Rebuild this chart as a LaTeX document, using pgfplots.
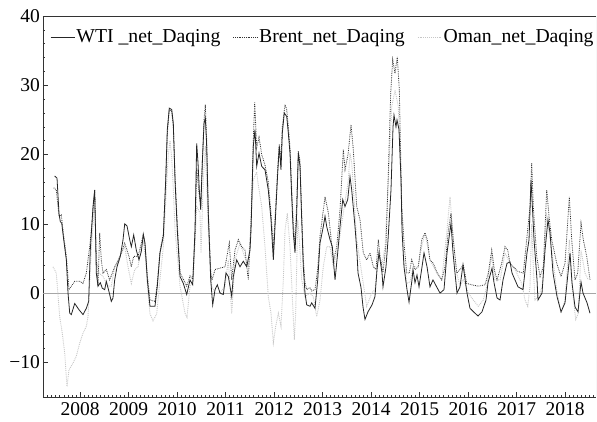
\documentclass[border=0pt]{standalone}
\usepackage{fontspec}
\setmainfont{Liberation Serif}
\usepackage{pgfplots}
\pgfplotsset{compat=1.18}
\usepackage{pgfplotstable}

\pgfplotstableread{
x y
2007.478 16.9
2007.526 16.6
2007.567 11.5
2007.594 10.3
2007.623 10.1
2007.664 7.7
2007.718 4.8
2007.753 0
2007.788 -2.9
2007.821 -3.1
2007.891 -1.5
2007.979 -2.4
2008.062 -3.1
2008.130 -2.2
2008.179 -1.2
2008.212 6.2
2008.268 12.5
2008.303 14.9
2008.336 2.9
2008.371 1.0
2008.419 1.5
2008.460 0.7
2008.509 0.5
2008.542 1.7
2008.598 0.2
2008.645 -1.2
2008.680 -0.7
2008.715 1.9
2008.763 3.8
2008.831 5.3
2008.887 7.7
2008.922 10.0
2008.969 9.7
2009.025 7.7
2009.058 6.7
2009.107 8.4
2009.161 6.2
2009.216 4.8
2009.264 6.0
2009.305 8.5
2009.340 7.2
2009.388 1.9
2009.443 -1.9
2009.546 -1.9
2009.594 1.0
2009.649 5.8
2009.718 8.2
2009.767 16.3
2009.800 23.6
2009.841 26.7
2009.891 26.5
2009.924 24.5
2009.959 16.3
2010.006 9.1
2010.062 2.4
2010.130 1.4
2010.200 -0.2
2010.268 1.9
2010.324 1.2
2010.371 9.1
2010.406 21.6
2010.433 18.8
2010.460 14.9
2010.489 12.0
2010.522 18.8
2010.557 24.5
2010.584 25.3
2010.612 21.2
2010.645 11.5
2010.695 1.9
2010.736 -1.7
2010.784 0.5
2010.831 1.2
2010.887 0
2010.955 -0.2
2011.010 2.9
2011.058 2.4
2011.128 -0.5
2011.161 2.4
2011.231 4.8
2011.299 3.8
2011.367 4.6
2011.437 3.8
2011.505 6.2
2011.526 9.1
2011.573 21.2
2011.608 23.6
2011.643 18.3
2011.691 20.2
2011.746 18.3
2011.814 17.8
2011.882 14.9
2011.938 10.6
2011.986 4.8
2012.035 11.6
2012.076 17.3
2012.109 21.2
2012.144 17.8
2012.171 23.1
2012.212 26.0
2012.262 25.5
2012.295 23.1
2012.330 20.2
2012.365 13.9
2012.398 8.7
2012.433 5.8
2012.468 11.6
2012.501 20.2
2012.536 18.3
2012.571 10.6
2012.604 3.8
2012.639 0
2012.674 -1.7
2012.742 -1.9
2012.777 -1.4
2012.845 -2.2
2012.901 1.9
2012.948 7.2
2013.016 9.6
2013.052 11.1
2013.087 9.6
2013.155 7.7
2013.202 6.7
2013.258 1.9
2013.313 5.8
2013.361 9.6
2013.417 13.5
2013.464 12.5
2013.520 13.5
2013.567 16.8
2013.602 14.9
2013.670 9.6
2013.711 5.8
2013.732 2.9
2013.794 0.8
2013.835 -2.0
2013.876 -3.8
2013.938 -2.7
2014.021 -1.7
2014.082 -0.5
2014.124 3.4
2014.165 5.8
2014.227 2.9
2014.247 0.9
2014.309 3.8
2014.351 7.7
2014.412 14.9
2014.454 24.0
2014.474 25.7
2014.515 24.0
2014.536 25.0
2014.577 23.6
2014.619 16.3
2014.639 9.1
2014.680 3.8
2014.742 0.5
2014.784 -1.3
2014.845 1.9
2014.866 3.4
2014.907 1.5
2014.948 2.6
2014.990 0.9
2015.052 3.8
2015.093 5.8
2015.155 3.8
2015.216 0.9
2015.278 1.9
2015.361 0.8
2015.423 0
2015.505 0.5
2015.567 5.8
2015.649 10.1
2015.691 5.8
2015.773 0
2015.835 0.9
2015.897 4.1
2015.979 0
2016.041 -2.2
2016.144 -2.9
2016.206 -3.3
2016.289 -2.7
2016.371 -1.0
2016.412 1.5
2016.495 3.6
2016.536 1.5
2016.598 -0.7
2016.660 -1.0
2016.722 1.9
2016.804 4.3
2016.866 4.5
2016.907 2.9
2016.969 1.9
2017.031 0.9
2017.134 0.5
2017.216 5.8
2017.258 7.7
2017.299 16.3
2017.320 13.5
2017.361 7.7
2017.423 1.9
2017.443 -1.0
2017.526 0
2017.588 6.2
2017.649 10.6
2017.691 8.7
2017.753 2.9
2017.835 -0.5
2017.918 -2.7
2018.000 -1.4
2018.062 2.9
2018.103 5.8
2018.144 1.5
2018.206 -2.0
2018.268 -2.7
2018.330 1.6
2018.371 0
2018.454 -1.4
2018.515 -2.9
}\wti

\pgfplotstableread{
x y
2007.458 15.2
2007.511 14.9
2007.567 11.1
2007.614 11.3
2007.664 8.2
2007.718 5.3
2007.773 0.5
2007.821 1.0
2007.891 1.7
2007.994 1.7
2008.062 1.4
2008.130 2.9
2008.200 6.7
2008.254 10.6
2008.303 14.9
2008.336 4.8
2008.371 1.0
2008.406 8.7
2008.439 4.8
2008.474 2.9
2008.542 3.4
2008.612 1.9
2008.666 2.9
2008.715 3.8
2008.763 4.3
2008.852 5.8
2008.922 7.2
2009.010 5.3
2009.058 3.8
2009.107 5.3
2009.196 5.3
2009.264 7.2
2009.305 8.5
2009.340 7.0
2009.388 2.5
2009.443 -1.0
2009.546 -1.2
2009.594 1.5
2009.649 6.0
2009.718 8.5
2009.767 16.0
2009.800 23.0
2009.841 26.5
2009.891 26.2
2009.924 24.0
2009.959 17.0
2010.006 10.0
2010.062 3.0
2010.130 2.0
2010.200 1.0
2010.268 2.5
2010.324 2.0
2010.371 8.0
2010.406 18.0
2010.433 16.0
2010.460 14.0
2010.489 13.0
2010.522 19.0
2010.557 25.0
2010.584 27.2
2010.612 22.0
2010.645 12.0
2010.695 3.0
2010.722 1.9
2010.784 3.4
2010.887 3.6
2010.990 3.8
2011.078 7.2
2011.128 1.9
2011.196 6.2
2011.264 7.7
2011.334 6.7
2011.402 6.2
2011.470 1.9
2011.526 10.0
2011.573 22.0
2011.602 27.6
2011.643 21.0
2011.691 22.5
2011.746 20.0
2011.814 18.5
2011.882 16.0
2011.938 11.5
2011.986 6.5
2012.035 12.5
2012.076 18.0
2012.109 21.5
2012.144 19.0
2012.171 24.0
2012.227 27.2
2012.262 26.5
2012.295 24.0
2012.330 21.0
2012.365 15.0
2012.398 10.0
2012.433 7.0
2012.468 13.0
2012.501 20.5
2012.536 19.0
2012.571 11.5
2012.604 5.0
2012.639 1.5
2012.674 0.5
2012.742 0.8
2012.777 0.3
2012.845 0.5
2012.901 3.5
2012.948 8.2
2013.052 13.9
2013.120 11.6
2013.175 8.0
2013.223 4.5
2013.293 6.7
2013.361 12.0
2013.429 20.7
2013.464 17.8
2013.526 20.0
2013.588 24.3
2013.635 20.7
2013.705 12.5
2013.773 10.6
2013.841 5.8
2013.911 4.8
2013.979 5.8
2014.047 3.8
2014.103 3.4
2014.151 7.7
2014.186 5.3
2014.247 3.0
2014.309 7.0
2014.357 17.3
2014.406 28.9
2014.447 33.7
2014.495 31.7
2014.542 34.1
2014.584 29.3
2014.633 12.5
2014.687 6.7
2014.736 2.9
2014.790 2.9
2014.839 4.8
2014.907 3.4
2014.975 3.8
2015.045 7.7
2015.113 8.7
2015.161 7.7
2015.216 4.8
2015.285 4.3
2015.367 2.9
2015.458 1.9
2015.526 3.8
2015.594 9.0
2015.649 11.5
2015.697 7.7
2015.767 2.9
2015.835 3.4
2015.903 4.1
2015.973 1.4
2016.076 1.2
2016.212 1.0
2016.351 1.2
2016.419 2.9
2016.489 6.2
2016.542 3.4
2016.598 1.9
2016.695 4.3
2016.763 6.7
2016.819 6.2
2016.866 4.3
2016.934 3.8
2017.037 3.1
2017.140 2.9
2017.210 7.7
2017.278 12.5
2017.313 18.8
2017.346 12.5
2017.416 5.3
2017.485 2.4
2017.553 3.8
2017.623 14.9
2017.670 11.1
2017.726 7.7
2017.829 4.3
2017.918 2.4
2018.000 4.3
2018.089 13.9
2018.138 7.7
2018.206 1.9
2018.262 2.9
2018.330 10.1
2018.377 7.7
2018.447 5.3
2018.515 1.9
}\brent

\pgfplotstableread{
x y
2007.443 3.8
2007.511 2.9
2007.581 -3.4
2007.635 -5.8
2007.685 -8.7
2007.732 -13.5
2007.773 -11.1
2007.856 -10.1
2007.924 -9.1
2007.994 -7.2
2008.062 -5.8
2008.130 -4.8
2008.165 -3.4
2008.233 6.2
2008.303 13.5
2008.336 4.8
2008.392 2.9
2008.474 2.4
2008.577 1.0
2008.645 1.0
2008.715 3.8
2008.819 5.3
2008.922 6.7
2008.990 3.8
2009.058 1.4
2009.128 3.4
2009.196 3.8
2009.264 6.7
2009.305 7.5
2009.351 5.0
2009.402 0
2009.443 -3.0
2009.505 -4.0
2009.581 -3.0
2009.649 2.0
2009.718 6.7
2009.773 14.0
2009.821 20.0
2009.856 22.0
2009.891 19.5
2009.924 15.0
2009.959 9.1
2010.062 1.0
2010.165 -2.9
2010.206 -3.5
2010.268 1.0
2010.336 1.9
2010.406 12.5
2010.474 11.6
2010.495 5.8
2010.542 16.3
2010.584 21.2
2010.645 9.1
2010.715 1.0
2010.784 0
2010.887 0
2010.990 1.0
2011.058 4.8
2011.128 -3.0
2011.196 4.8
2011.299 7.2
2011.367 5.8
2011.470 3.8
2011.573 16.3
2011.643 17.5
2011.670 15.9
2011.746 12.5
2011.814 6.7
2011.882 -0.5
2011.938 -2.9
2011.986 -7.2
2012.035 -4.8
2012.089 -2.9
2012.144 -4.8
2012.192 1.9
2012.227 9.1
2012.274 11.5
2012.330 6.7
2012.377 -0.5
2012.419 -6.7
2012.447 -2.9
2012.489 10.6
2012.522 7.7
2012.571 1.9
2012.639 -0.5
2012.742 0
2012.810 -0.5
2012.880 -3.4
2012.948 -1.0
2013.016 3.8
2013.087 6.7
2013.155 6.7
2013.223 3.8
2013.326 6.7
2013.429 11.5
2013.532 16.3
2013.567 20.2
2013.602 18.8
2013.705 7.7
2013.808 2.9
2013.911 -1.9
2014.014 0
2014.082 0.5
2014.151 5.8
2014.221 4.0
2014.289 6.7
2014.357 16.3
2014.427 26.9
2014.495 29.3
2014.563 26.9
2014.612 17.3
2014.666 5.3
2014.736 1.4
2014.804 1.6
2014.872 3.8
2014.969 3.8
2015.045 6.7
2015.113 8.7
2015.216 4.8
2015.355 2.9
2015.458 1.9
2015.561 8.7
2015.629 13.9
2015.697 7.7
2015.767 2.9
2015.835 1.0
2015.903 2.0
2016.006 0
2016.109 -1.0
2016.212 -1.9
2016.316 -1.0
2016.386 1.0
2016.489 5.3
2016.557 1.9
2016.660 1.9
2016.763 5.8
2016.866 4.3
2016.969 3.4
2017.107 1.4
2017.175 -1.0
2017.231 -1.9
2017.278 1.0
2017.313 10.0
2017.351 3.0
2017.381 -1.0
2017.450 -0.5
2017.532 1.0
2017.623 11.1
2017.726 6.2
2017.829 0.5
2017.918 -2.9
2018.000 -1.0
2018.089 7.7
2018.151 0.5
2018.221 -3.8
2018.274 -2.9
2018.330 6.2
2018.412 2.9
2018.480 1.9
}\oman

\begin{document}
\begin{tikzpicture}
\begin{axis}[
  at={(0pt,0pt)}, anchor=south west,
  scale only axis, width=553pt, height=381pt,
  xmin=2007.237, xmax=2018.639, ymin=-15, ymax=40,
  axis lines=left,
  axis line style={-, black!80, line width=0.8pt},
  tick align=inside,
  xtick={2008,2009,2010,2011,2012,2013,2014,2015,2016,2017,2018},
  xticklabels={2008,2009,2010,2011,2012,2013,2014,2015,2016,2017,2018},
  minor x tick num=11,
  ytick={-10,0,10,20,30,40},
  yticklabels={−10,0,10,20,30,40},
  minor y tick num=4,
  major tick length=5pt, minor tick length=2.5pt,
  tick style={black!80, line width=0.6pt},
  ticklabel style={font=\fontsize{19.5}{22}\selectfont},
  yticklabel style={inner sep=0pt, xshift=-3pt},
  xticklabel style={inner sep=0pt, yshift=-5pt},
  extra x ticks={2007.25,2007.3333,2007.4167,2007.5,2007.5833,2007.6667,2007.75,2007.8333,2007.9167,2018.0833,2018.1667,2018.25,2018.3333,2018.4167,2018.5,2018.5833},
  extra x tick labels={},
  extra x tick style={major tick length=2.5pt},
  legend style={draw=none, fill=none, at={(rel axis cs:0,1)}, anchor=north west,
    xshift=7pt, yshift=-12pt, legend columns=3,
    font=\fontsize{19.7}{21}\selectfont, inner sep=0pt,
    nodes={inner sep=1.5pt},
    /tikz/every even column/.append style={column sep=11pt}},
  legend cell align=left,
  legend image code/.code={\draw[#1] (0pt,0pt) -- (24pt,0pt);},
]
\draw[gray!70, line width=0.6pt] (axis cs:2007.237,0) -- (axis cs:2018.639,0);
\addlegendimage{black!85, line width=0.8pt}
\addlegendentry{WTI \_net\_Daqing}
\addlegendimage{black!80, densely dotted, line width=0.8pt}
\addlegendentry{Brent\_net\_Daqing}
\addlegendimage{gray!45, densely dotted, line width=0.9pt}
\addlegendentry{Oman\_net\_Daqing}
\addplot[gray!45, densely dotted, line width=0.9pt, forget plot] table {\oman};
\addplot[black!80, densely dotted, line width=0.8pt, forget plot] table {\brent};
\addplot[black!85, line width=0.8pt, forget plot] table {\wti};
\draw[black!80, line width=0.8pt] (rel axis cs:0,1) -- (rel axis cs:1,1);
\draw[gray!50, line width=0.6pt] (rel axis cs:1,0) -- (rel axis cs:1,1);
\end{axis}
\pgfresetboundingbox
\useasboundingbox (-43pt,-24pt) rectangle (554pt,397pt);
\end{tikzpicture}
\end{document}
